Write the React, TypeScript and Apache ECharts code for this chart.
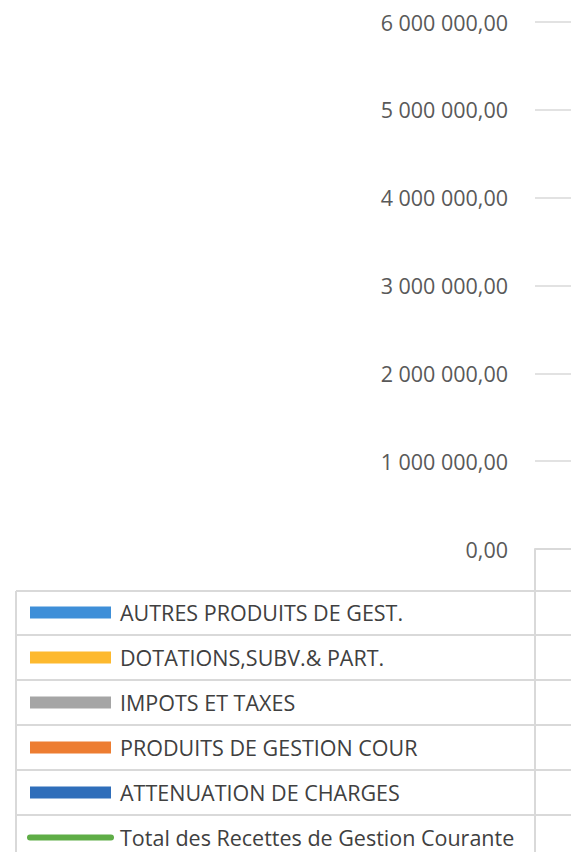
import React, { useEffect, useRef } from "react";
import * as echarts from "echarts";

// Categories (columns of the data table, beyond the visible crop)
const categories = ["2019", "2020", "2021", "2022"];

// Series names, in the order shown in the data-table legend
const seriesNames = [
  "AUTRES PRODUITS DE GEST.",
  "DOTATIONS,SUBV.& PART.",
  "IMPOTS ET TAXES",
  "PRODUITS DE GESTION COUR",
  "ATTENUATION DE CHARGES",
  "Total des Recettes de Gestion Courante",
];

// Values (columns lie outside the visible crop; estimates)
const autresProduits = [95000, 88000, 102000, 110000];
const dotations = [1450000, 1420000, 1480000, 1510000];
const impots = [2350000, 2400000, 2460000, 2550000];
const produitsGestion = [260000, 210000, 240000, 275000];
const attenuation = [55000, 48000, 40000, 36000];
const totalRecettes = [4210000, 4166000, 4322000, 4481000];

// Y axis ticks
const yTicks = [0, 1000000, 2000000, 3000000, 4000000, 5000000, 6000000];

const colors = ["#3E8FD8", "#FDB92E", "#A5A5A5", "#ED7D31", "#2F6EBA", "#5FAD46"];

const FONT = "'Open Sans', sans-serif";
const LINE = "#D9D9D9";

function fmt(v: number): string {
  const s = Math.round(v).toString().replace(/\B(?=(\d{3})+(?!\d))/g, " ");
  return s + ",00";
}

export default function App() {
  const ref = useRef<HTMLDivElement>(null);
  useEffect(() => {
    if (!ref.current) return;
    const chart = echarts.init(ref.current, null, { renderer: "svg" });

    const rowLines = [591, 635, 680, 725, 770, 815];
    const graphics: any[] = rowLines.map((y) => ({
      type: "line",
      shape: { x1: 16, y1: y, x2: 571, y2: y },
      style: { stroke: LINE, lineWidth: 2 },
      silent: true,
    }));
    graphics.push({
      type: "line",
      shape: { x1: 16, y1: 591, x2: 16, y2: 852 },
      style: { stroke: LINE, lineWidth: 2 },
      silent: true,
    });
    graphics.push({
      type: "line",
      shape: { x1: 535, y1: 549, x2: 535, y2: 852 },
      style: { stroke: LINE, lineWidth: 2 },
      silent: true,
    });
    // legend key of the total line: thick, round-capped
    graphics.push({
      type: "line",
      shape: { x1: 30, y1: 837.5, x2: 111, y2: 837.5 },
      style: { stroke: colors[5], lineWidth: 6, lineCap: "round" },
      silent: true,
      z: 100,
    });

    const barData = [autresProduits, dotations, impots, produitsGestion, attenuation];
    const series: any[] = [];
    // stack from bottom: attenuation, produits, impots, dotations, autres
    for (let i = 4; i >= 0; i--) {
      series.push({
        name: seriesNames[i],
        type: "bar",
        stack: "recettes",
        barWidth: "50%",
        itemStyle: { color: colors[i] },
        data: barData[i],
      });
    }
    series.push({
      name: seriesNames[5],
      type: "line",
      symbol: "none",
      lineStyle: { color: colors[5], width: 6, cap: "round" },
      itemStyle: { color: colors[5] },
      data: totalRecettes,
    });

    chart.setOption({
      animation: false,
      backgroundColor: "#ffffff",
      grid: {
        left: 535,
        top: 22,
        bottom: 852 - 549,
        right: -700,
        outerBoundsMode: "none",
        containLabel: false,
      },
      legend: {
        orient: "vertical",
        left: 30,
        top: 600,
        padding: 0,
        height: 260,
        itemWidth: 81,
        itemHeight: 12,
        itemGap: 20,
        data: seriesNames.map((n, i) =>
          i === 5
            ? { name: n, icon: "rect", itemStyle: { opacity: 0 } }
            : { name: n, icon: "rect" }
        ),
        textStyle: {
          fontFamily: FONT,
          fontSize: 21.5,
          color: "#404040",
          lineHeight: 25,
          padding: [0, 0, 0, 4],
        },
        selectedMode: false,
      },
      xAxis: {
        type: "category",
        data: categories,
        axisLabel: { show: false },
        axisTick: { show: false },
        axisLine: { show: true, lineStyle: { color: LINE, width: 2 } },
      },
      yAxis: {
        type: "value",
        min: yTicks[0],
        max: yTicks[yTicks.length - 1],
        interval: yTicks[1] - yTicks[0],
        axisLine: { show: false },
        axisTick: { show: false },
        splitLine: { show: true, lineStyle: { color: LINE, width: 1.5 } },
        axisLabel: {
          fontFamily: FONT,
          fontSize: 21.5,
          color: "#595959",
          margin: 27,
          formatter: (v: number) => fmt(v),
        },
      },
      graphic: graphics,
      series,
    });
    return () => chart.dispose();
  }, []);
  return (
    <div
      ref={ref}
      style={{ position: "absolute", left: 0, top: 0, width: 571, height: 852 }}
    />
  );
}
